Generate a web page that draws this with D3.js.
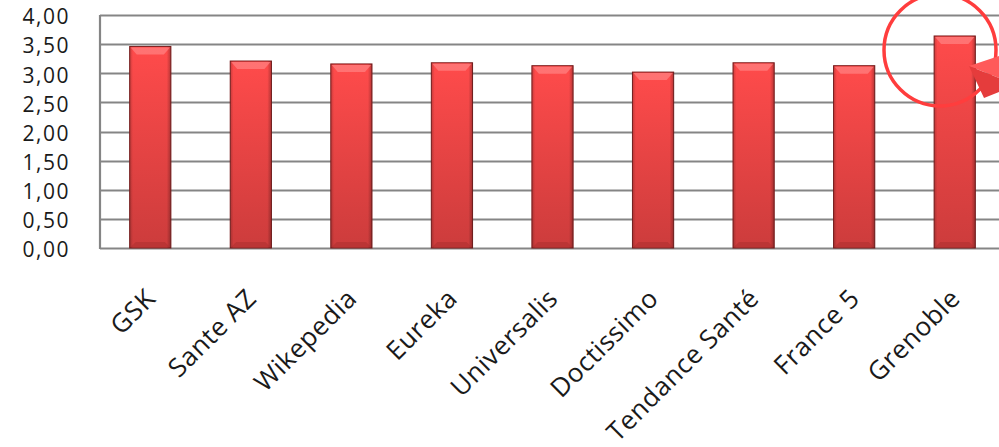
<!DOCTYPE html>
<html>
<head>
<meta charset="utf-8">
<script src="https://cdn.jsdelivr.net/npm/d3@7"></script>
<style>
  html, body { margin: 0; padding: 0; background: #fff; overflow: hidden; }
  svg { display: block; }
</style>
</head>
<body>
<svg id="chart" width="999" height="447"></svg>
<script>
const categories = ["GSK", "Sante AZ", "Wikepedia", "Eureka", "Universalis", "Doctissimo", "Tendance Santé", "France 5", "Grenoble"];
const values = [3.46, 3.21, 3.16, 3.18, 3.13, 3.02, 3.18, 3.13, 3.64];
const yTicks = [0, 0.5, 1, 1.5, 2, 2.5, 3, 3.5, 4];
const yTickLabels = ["0,00", "0,50", "1,00", "1,50", "2,00", "2,50", "3,00", "3,50", "4,00"];

(function () {
const svg = d3.select("#chart");
const pLeft = 100, pRight = 1005, pTop = 15, pBottom = 248;

const x = d3.scaleBand().domain(categories).range([pLeft, pRight]).paddingInner(0.59).paddingOuter(0.295);
const y = d3.scaleLinear().domain([0, 4]).range([pBottom, pTop]);

const defs = svg.append("defs");
const g1 = defs.append("linearGradient").attr("id", "barGrad").attr("x1", 0).attr("y1", 0).attr("x2", 0).attr("y2", 1);
g1.append("stop").attr("offset", "0%").attr("stop-color", "#ff4b4b");
g1.append("stop").attr("offset", "100%").attr("stop-color", "#cc3c3c");
const g2 = defs.append("linearGradient").attr("id", "sideGrad").attr("x1", 0).attr("y1", 0).attr("x2", 1).attr("y2", 0);
g2.append("stop").attr("offset", "0%").attr("stop-color", "#000").attr("stop-opacity", 0.2);
g2.append("stop").attr("offset", "8%").attr("stop-color", "#000").attr("stop-opacity", 0);
g2.append("stop").attr("offset", "90%").attr("stop-color", "#000").attr("stop-opacity", 0);
g2.append("stop").attr("offset", "100%").attr("stop-color", "#000").attr("stop-opacity", 0.28);

// gridlines
svg.append("g").selectAll("line").data(yTicks).join("line")
  .attr("x1", pLeft).attr("x2", 999)
  .attr("y1", d => Math.round(y(d)) + 0.5).attr("y2", d => Math.round(y(d)) + 0.5)
  .attr("stroke", "#858585").attr("stroke-width", 2.2);
svg.append("line").attr("x1", pLeft).attr("x2", pLeft).attr("y1", pTop).attr("y2", pBottom + 1)
  .attr("stroke", "#858585").attr("stroke-width", 2.2);

// y labels
const yAxis = d3.axisLeft(y).tickValues(yTicks).tickSize(0).tickPadding(0)
  .tickFormat(d => yTickLabels[yTicks.indexOf(d)]);
const ya = svg.append("g").attr("transform", "translate(70,0)").call(yAxis);
ya.select(".domain").remove();
ya.selectAll("text").attr("font-family", "'Open Sans', sans-serif").attr("font-size", 21)
  .attr("letter-spacing", 1.5).attr("fill", "#1a1a1a").attr("dy", "0.42em");

// bars
const bars = svg.append("g").selectAll("g").data(categories).join("g");
bars.append("rect")
  .attr("x", d => x(d)).attr("width", x.bandwidth())
  .attr("y", (d, i) => y(values[i])).attr("height", (d, i) => y(0) - y(values[i]))
  .attr("fill", "url(#barGrad)").attr("stroke", "#7d2020").attr("stroke-width", 1);
bars.append("rect")
  .attr("x", d => x(d)).attr("width", x.bandwidth())
  .attr("y", (d, i) => y(values[i])).attr("height", (d, i) => y(0) - y(values[i]))
  .attr("fill", "url(#sideGrad)");
bars.append("path")
  .attr("d", (d, i) => {
    const x0 = x(d), w = x.bandwidth(), yt = y(values[i]);
    return `M${x0 + 1},${yt + 1} L${x0 + w - 1},${yt + 1} L${x0 + w - 7},${yt + 8} L${x0 + 7},${yt + 8} Z`;
  })
  .attr("fill", "#ff8080").attr("opacity", 0.75);
bars.append("path")
  .attr("d", d => {
    const x0 = x(d), w = x.bandwidth(), yb = y(0);
    return `M${x0 + 1},${yb - 1} L${x0 + w - 1},${yb - 1} L${x0 + w - 6},${yb - 6} L${x0 + 6},${yb - 6} Z`;
  })
  .attr("fill", "#a92e2e").attr("opacity", 0.5);

// x labels
svg.append("g").selectAll("text").data(categories).join("text")
  .attr("transform", d => `translate(${x(d) + x.bandwidth() / 2 + 7},${300}) rotate(-45)`)
  .attr("text-anchor", "end")
  .attr("font-family", "'Open Sans', sans-serif").attr("font-size", 26)
  .attr("letter-spacing", 0.6)
  .attr("fill", "#1a1a1a")
  .text(d => d);

// red circle annotation
svg.append("circle").attr("cx", 940).attr("cy", 50).attr("r", 56)
  .attr("fill", "none").attr("stroke", "#ff3d3d").attr("stroke-width", 3.5);
svg.append("path").attr("d", "M969,66 L999,56 L999,78 Z").attr("fill", "#ff5a5a");
svg.append("path").attr("d", "M969,66 L999,78 L999,92 L984,98 Z").attr("fill", "#e53c3c");
})();
</script>
</body>
</html>
